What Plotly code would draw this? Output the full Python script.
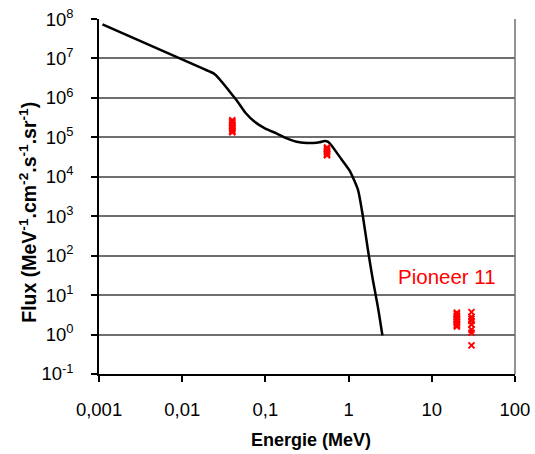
import plotly.graph_objects as go

# Model spectrum (energy in MeV, flux)
curve_energy = [0.0011, 0.0178, 0.0246, 0.0448, 0.0575, 0.0743, 0.1, 0.1355, 0.178,
                0.236, 0.316, 0.373, 0.447, 0.516, 0.562, 0.621, 0.782, 1.03, 1.30,
                1.49, 1.71, 1.96, 2.25, 2.55]
curve_flux = [7.3e7, 5.5e6, 4.0e6, 8.8e5, 4.2e5, 2.47e5, 1.66e5, 1.26e5, 9.5e4,
              7.7e4, 7.2e4, 7.2e4, 7.5e4, 8.1e4, 7.8e4, 6.3e4, 3.2e4, 1.43e4, 4.6e3,
              960, 137, 23.8, 5.0, 0.95]

# Pioneer 11 measurements
p_energy_1 = [0.04] * 9
p_flux_1 = [2.7e5, 2.5e5, 2.3e5, 2.1e5, 1.9e5, 1.75e5, 1.6e5, 1.45e5, 1.35e5]
p_energy_2 = [0.55] * 6
p_flux_2 = [5.5e4, 5.0e4, 4.6e4, 4.2e4, 3.8e4, 3.5e4]
p_energy_3 = [20] * 10
p_flux_3 = [3.6, 3.3, 3.0, 2.7, 2.5, 2.3, 2.1, 1.9, 1.75, 1.6]
p_energy_4 = [30] * 8
p_flux_4 = [3.7, 2.8, 2.5, 2.2, 1.8, 1.33, 1.12, 0.53]

x_tickvals = [0.001, 0.01, 0.1, 1, 10, 100]
x_ticktext = ["0,001", "0,01", "0,1", "1", "10", "100"]
y_exponents = [-1, 0, 1, 2, 3, 4, 5, 6, 7, 8]

FONT = "Arial, Liberation Sans, sans-serif"

fig = go.Figure()
fig.add_trace(go.Scatter(x=curve_energy, y=curve_flux, mode="lines",
                         line=dict(color="black", width=2.5, shape="spline", smoothing=0.5),
                         showlegend=False))
for xe, yf in [(p_energy_1, p_flux_1), (p_energy_2, p_flux_2),
               (p_energy_3, p_flux_3), (p_energy_4, p_flux_4)]:
    fig.add_trace(go.Scatter(x=xe, y=yf, mode="markers",
                             marker=dict(symbol="x-thin-open", size=6, color="#ff0000",
                                         line=dict(color="#ff0000", width=2)),
                             showlegend=False))

fig.update_xaxes(type="log", range=[-3.0003, 2.0003], tickvals=x_tickvals, ticktext=x_ticktext,
                 showline=True, linecolor="black", linewidth=1.5, mirror=False,
                 ticks="outside", ticklen=6, tickcolor="black", tickwidth=1.5,
                 showgrid=False, zeroline=False, ticklabelstandoff=12, automargin=False,
                 tickfont=dict(family=FONT, size=18.5, color="black"))
fig.update_yaxes(type="log", range=[-1.0005, 8.0005],
                 tickvals=[10.0 ** e for e in y_exponents],
                 ticktext=["10<sup>%d</sup>" % e for e in y_exponents],
                 showline=True, linecolor="black", linewidth=1.5,
                 ticks="outside", ticklen=6, tickcolor="black", tickwidth=1.5,
                 showgrid=True, gridcolor="#6e6e6e", gridwidth=1.5, zeroline=False,
                 ticklabelstandoff=14, automargin=False,
                 tickfont=dict(family=FONT, size=18.5, color="black"))

# right border of plot area
fig.add_shape(type="line", xref="paper", yref="paper", x0=1, x1=1, y0=0, y1=1,
              line=dict(color="#6e6e6e", width=1.5))

fig.add_annotation(text="<b>Energie (MeV)</b>", xref="paper", yref="paper",
                   x=0.51, y=-0.185, showarrow=False, xanchor="center", yanchor="middle",
                   font=dict(family=FONT, size=18, color="black"))
fig.add_annotation(text="<b>Flux (MeV<sup>-1</sup>.cm<sup>-2</sup>.s<sup>-1</sup>.sr<sup>-1</sup>)</b>",
                   xref="paper", yref="paper", x=-0.17, y=0.455, textangle=-90,
                   showarrow=False, xanchor="center", yanchor="middle",
                   font=dict(family=FONT, size=19.5, color="black"))
fig.add_annotation(text="Pioneer 11", xref="paper", yref="paper",
                   x=0.8377, y=0.276, showarrow=False, xanchor="center", yanchor="middle",
                   font=dict(family=FONT, size=20.5, color="#ff0000"))

fig.update_layout(width=535, height=454, margin=dict(l=99, r=20, t=19, b=80, autoexpand=False),
                  plot_bgcolor="white", paper_bgcolor="white")

# remove the default page margin so the figure sits at the window's top-left corner
fig.write_html("out.html", config={"displayModeBar": False},
               post_script="document.body.style.margin='0';")
